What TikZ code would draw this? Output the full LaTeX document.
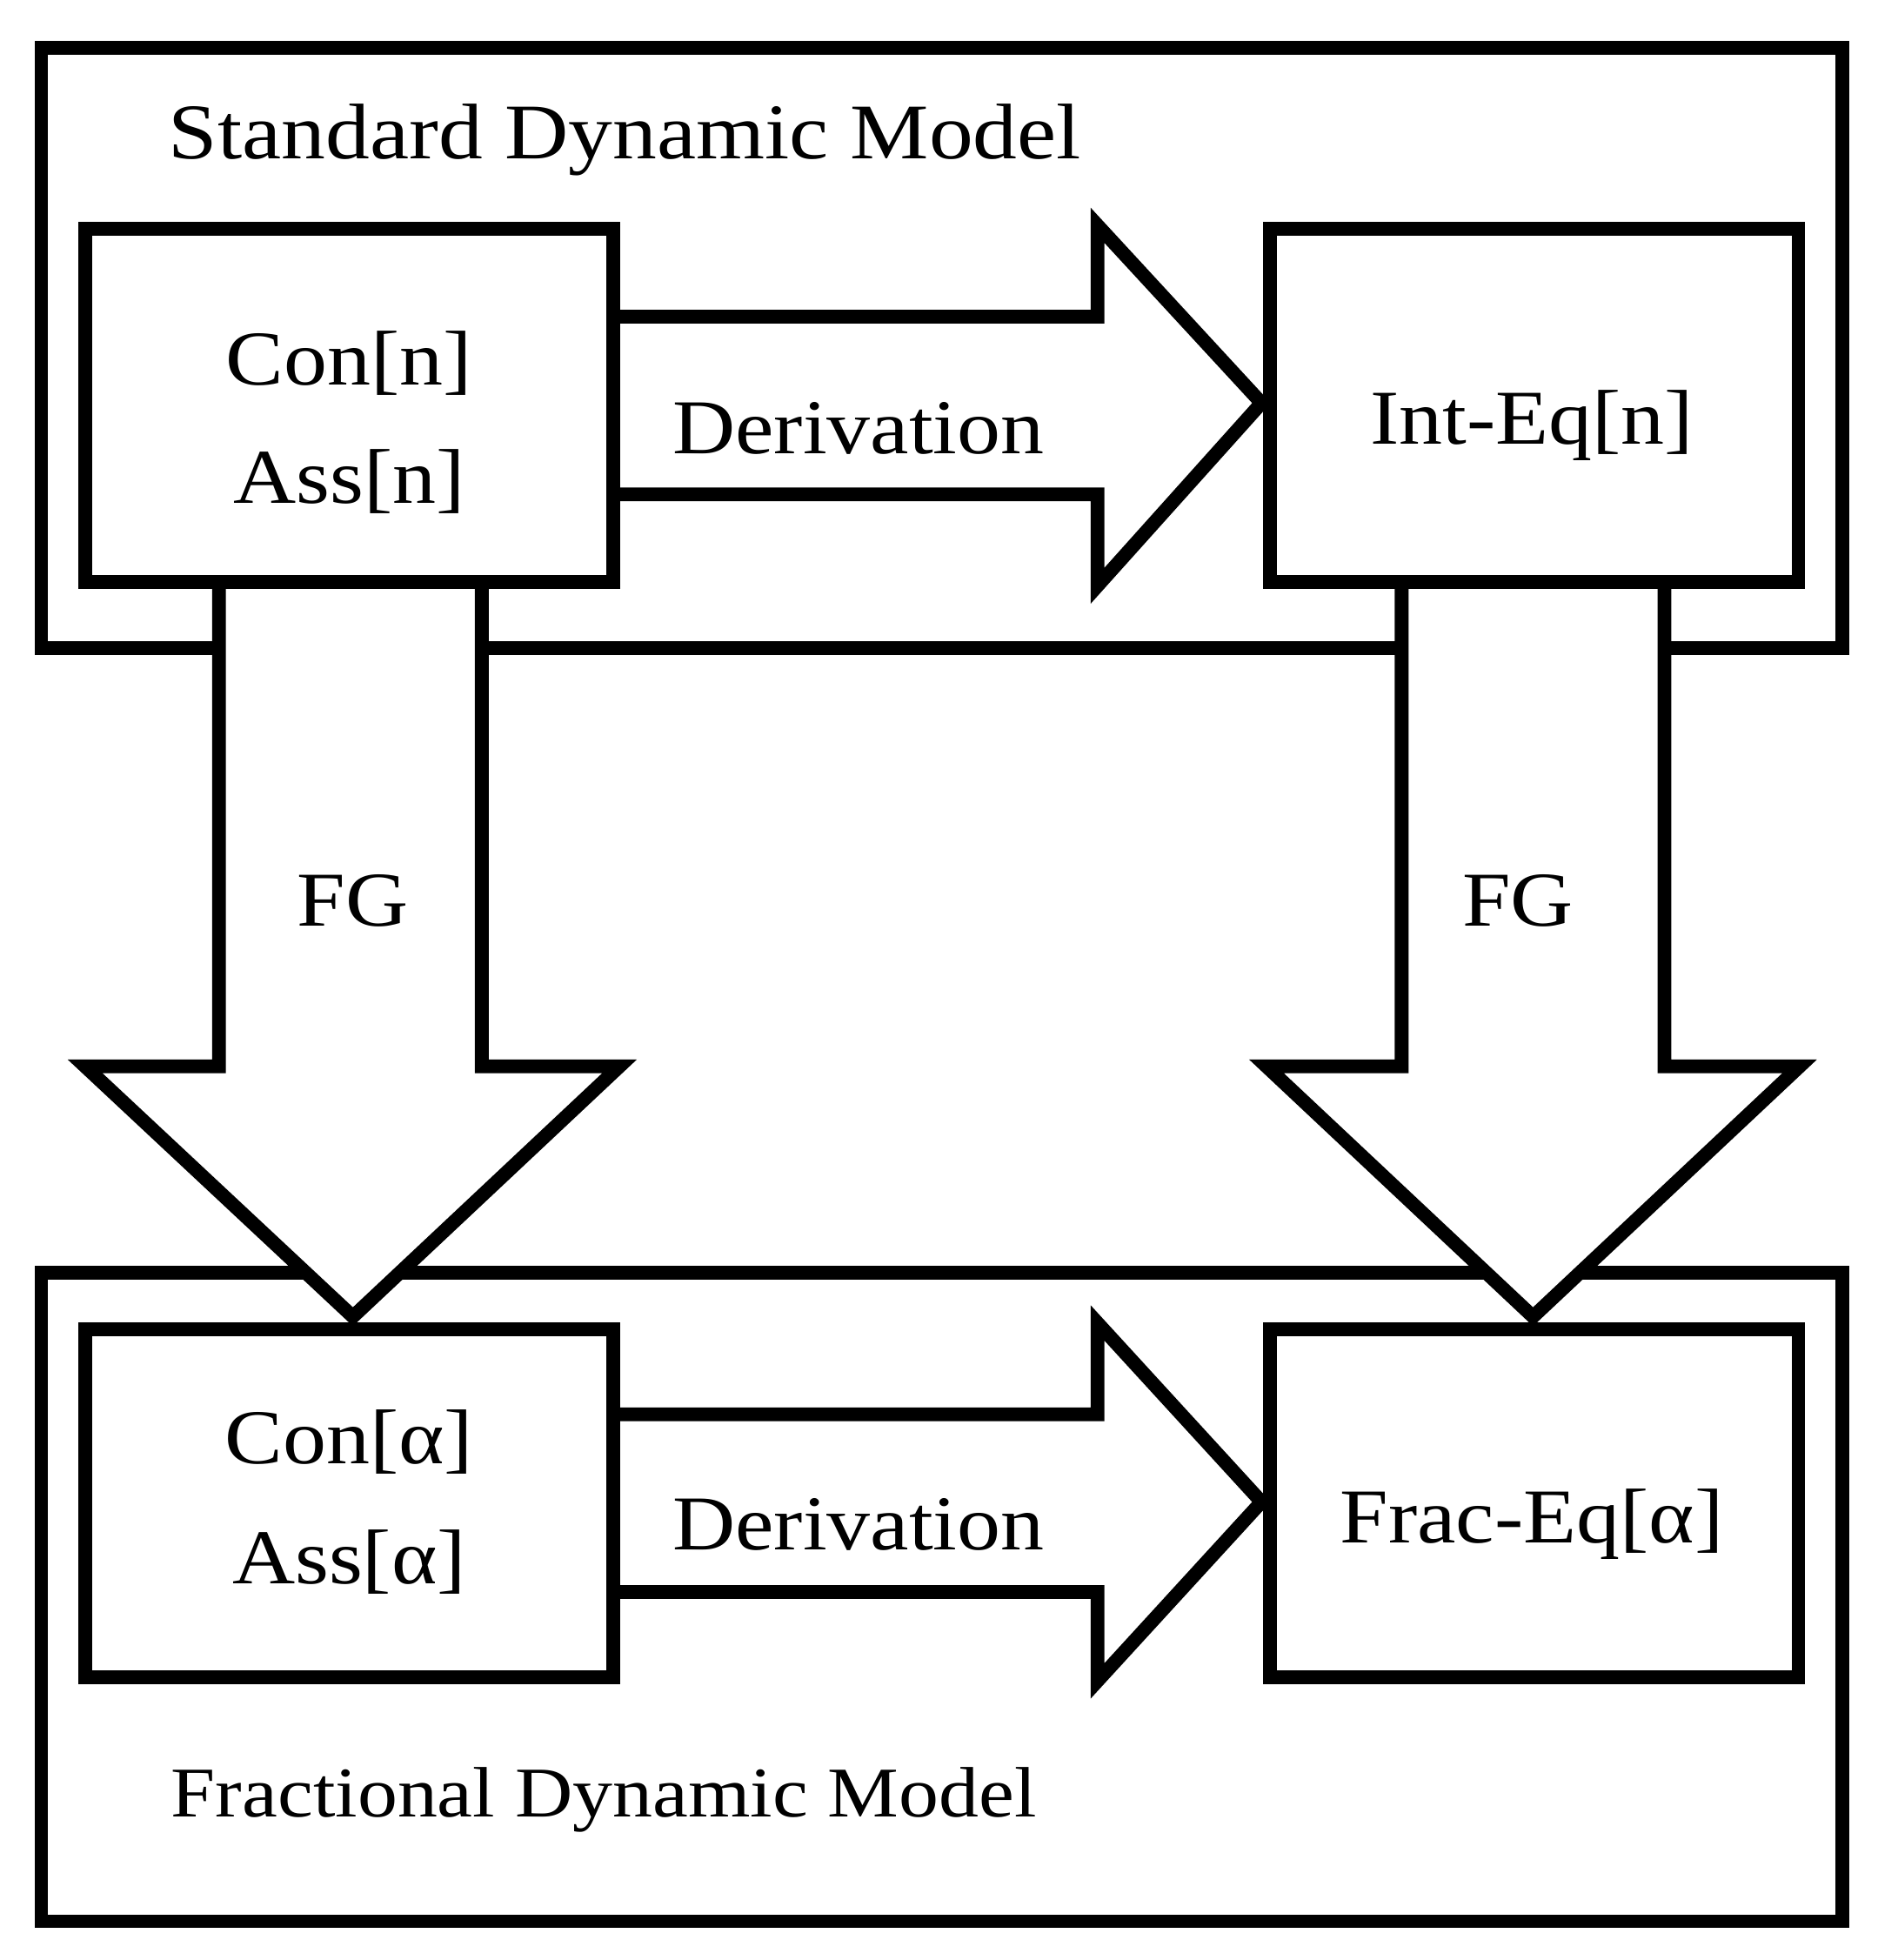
\documentclass[tikz,border=0pt]{standalone}
\usepackage{fontspec}
\setmainfont[FakeStretch=1.12]{Liberation Serif}
\begin{document}
\begin{tikzpicture}[x=1pt,y=-1pt,line width=11pt,line join=miter,
  box/.style={draw,fill=white},
  lbl/.style={font=\fontsize{62}{70}\selectfont},
  ttl/.style={font=\fontsize{63}{70}\selectfont,anchor=west}]
\useasboundingbox (0,0) rectangle (1500,1566);
\draw (33,38) rectangle (1472,518);
\draw (33,1017) rectangle (1472,1535);
\node[ttl] (t1) at (126,112) {Standard Dynamic Model};
\node[ttl,font=\fontsize{57}{64}\selectfont] (t2) at (128,1438) {Fractional Dynamic Model};
% arrows
\draw[fill=white] (490,253) -- (877,253) -- (877,180) -- (1008,322) -- (877,468) -- (877,395) -- (490,395);
\draw[fill=white] (490,1130) -- (877,1130) -- (877,1057) -- (1008,1200) -- (877,1343) -- (877,1272) -- (490,1272);
\draw[fill=white] (175,465) -- (175,852) -- (68,852) -- (282,1052) -- (495,852) -- (385,852) -- (385,465);
\draw[fill=white] (1120,465) -- (1120,852) -- (1012,852) -- (1225,1052) -- (1438,852) -- (1330,852) -- (1330,465);
% boxes
\node[box,minimum width=422pt,minimum height=282pt] (a) at (279,324) {};
\node[box,minimum width=422pt,minimum height=282pt] (b) at (1226,324) {};
\node[box,minimum width=422pt,minimum height=278pt] (c) at (279,1201) {};
\node[box,minimum width=422pt,minimum height=278pt] (d) at (1226,1201) {};
\node[lbl] (a1) at (279,290) {Con[n]};
\node[lbl] (a2) at (279,385) {Ass[n]};
\node[lbl] (b1) at (1224,340) {Int-Eq[n]};
\node[lbl] (c1) at (279,1152) {Con[α]};
\node[lbl] (c2) at (279,1248) {Ass[α]};
\node[lbl] (d1) at (1224,1218) {Frac-Eq[α]};
\node[lbl] (dv1) at (686,342) {Derivation};
\node[lbl] (dv2) at (686,1218) {Derivation};
\node[lbl] (fg1) at (282,720) {FG};
\node[lbl] (fg2) at (1213,720) {FG};
\end{tikzpicture}
\end{document}
